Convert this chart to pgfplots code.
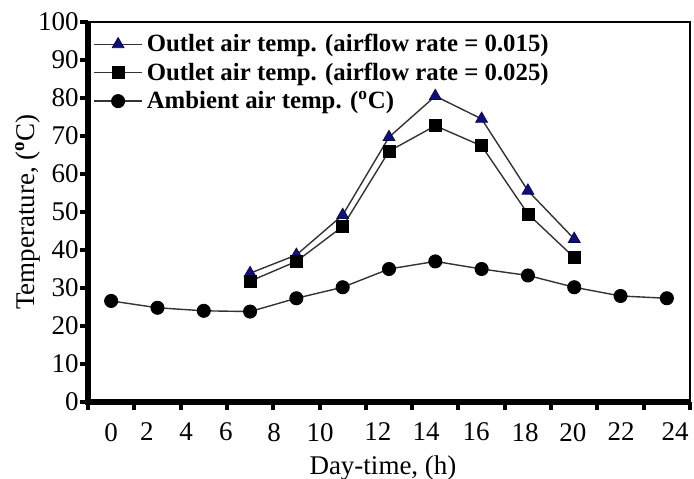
\documentclass[border=0pt]{standalone}
\usepackage{fontspec}
\setmainfont{Liberation Serif}
\usepackage{pgfplots}
\pgfplotsset{compat=1.18}
\definecolor{navy}{HTML}{10107A}
\definecolor{linegray}{HTML}{333333}

\begin{document}
\begin{tikzpicture}
\useasboundingbox (-44pt,-38pt) rectangle (303pt,201pt);
\begin{axis}[
  name=ax,
  scale only axis, width=301pt, height=190pt,
  xmin=0, xmax=13, ymin=0, ymax=100,
  ytick={0,10,...,100},
  xtick={0,1,...,13}, xticklabels={},
  extra x ticks={0.50,1.27,2.12,2.98,4.02,5.01,6.26,7.30,8.38,9.44,10.47,11.51,12.68},
  extra x tick labels={0,2,4,6,8,10,12,14,16,18,20,22,24},
  extra x tick style={major tick length=0pt, tick label style={yshift=-7pt}},
  tick pos=left, tick align=outside,
  major tick length=4pt,
  major tick style={black, line width=2pt},
  axis line style={line width=1.2pt},
  tick label style={font=\fontsize{13.5}{15}\selectfont},
  yticklabel style={inner sep=0.5pt},
  /pgf/number format/assume math mode=true,
  xlabel={Day-time, (h)}, ylabel={Temperature, (\textsuperscript{\textbf{o}}C)},
  label style={font=\fontsize{13.5}{15}\selectfont},
  xlabel style={at={(axis description cs:0.49,0)}, anchor=center, yshift=-33pt},
  ylabel style={at={(axis description cs:-0.1,0.5)}, anchor=center},
  legend style={draw=none, fill=none, at={(rel axis cs:0.005,0.985)}, anchor=north west,
    font=\bfseries\fontsize{12.4}{14}\selectfont, row sep=0pt, inner sep=1pt,
    cells={anchor=west}},
  legend image code/.code={\draw[mark repeat=2,mark phase=2] plot coordinates {(0pt,0pt) (12pt,0pt) (24pt,0pt)};},
  clip=false,
]
\addplot[linegray, line width=0.7pt, mark=triangle*, mark size=3.4pt,
  mark options={fill=navy, draw=navy!60!black, line width=0.4pt}] coordinates {
(3.5,33.9) (4.5,38.7) (5.5,49.2) (6.5,69.7) (7.5,80.5) (8.5,74.5) (9.5,55.6) (10.5,42.9)};
\addlegendentry{Outlet air temp. (airflow rate = 0.015)}
\addplot[linegray, line width=0.7pt, mark=square*, mark size=3pt,
  mark options={fill=black, draw=black, line width=0.4pt}] coordinates {
(3.5,31.8) (4.5,37.0) (5.5,46.2) (6.5,66.0) (7.5,72.7) (8.5,67.4) (9.5,49.5) (10.5,38.0)};
\addlegendentry{Outlet air temp. (airflow rate = 0.025)}
\addplot[linegray, line width=0.7pt, mark=*, mark size=3.3pt,
  mark options={fill=black, draw=black, line width=0.4pt}] coordinates {
(0.5,26.6) (1.5,24.8) (2.5,24.0) (3.5,23.8) (4.5,27.3) (5.5,30.2) (6.5,35.0) (7.5,37.0)
(8.5,35.0) (9.5,33.3) (10.5,30.2) (11.5,27.9) (12.5,27.3)};
\addlegendentry{Ambient air temp. (\textsuperscript{o}C)}
\end{axis}
\draw[line width=2.6pt] (ax.north west) -- (ax.south west) -- (ax.south east);
\end{tikzpicture}
\end{document}
